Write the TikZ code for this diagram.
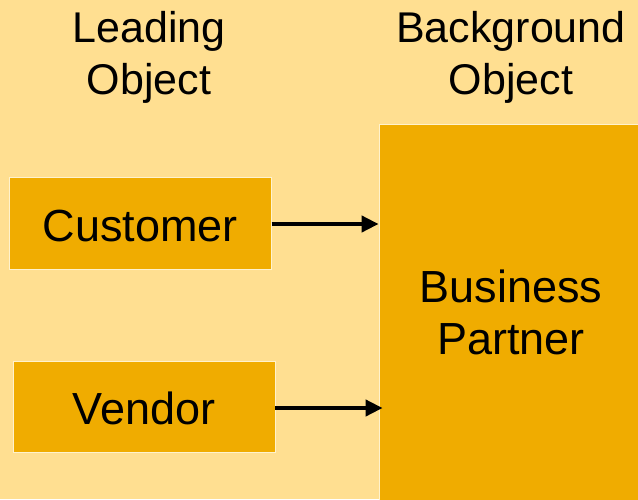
\documentclass[tikz,border=0pt]{standalone}
\usepackage{fontspec}
\setmainfont{Liberation Sans}
\usetikzlibrary{arrows.meta}
\definecolor{paper}{RGB}{255,223,145}
\definecolor{boxfill}{RGB}{240,172,0}
\definecolor{boxedge}{RGB}{255,242,205}
\tikzset{
  objbox/.style={draw=boxedge, line width=0.8pt, fill=boxfill, inner sep=0pt,
    font=\fontsize{45}{54}\selectfont, text height=36pt, text depth=0pt},
  heading/.style={anchor=base, inner sep=0pt, font=\fontsize{43}{52}\selectfont},
  link/.style={line width=4pt, -{Triangle[length=17pt,width=16pt]}}
}
\begin{document}
\begin{tikzpicture}[x=1pt,y=-1pt]
  % page and its background
  \fill[paper] (0,0) rectangle (638,499);
  \useasboundingbox (0,0) rectangle (638,499);

  % column headings
  \node[heading] (leadhead) at (149,42.7) {\begin{tabular}[t]{@{}c@{}}Leading\\Object\end{tabular}};
  \node[heading] (backhead) at (511,42.7) {\begin{tabular}[t]{@{}c@{}}Background\\Object\end{tabular}};

  % leading objects
  \node[objbox, minimum width=262pt, minimum height=92pt] (customer) at (140.3,223) {Customer};
  \node[objbox, minimum width=262pt, minimum height=91pt] (vendor) at (144,406.5) {Vendor};

  % background object, running off the right and bottom edges
  \node[draw=boxedge, line width=0.8pt, fill=boxfill, minimum width=270pt, minimum height=390pt, inner sep=0pt] (bp) at (514,319) {};
  \node[heading, font=\fontsize{45}{52}\selectfont] (bptext) at (511,302.7) {\begin{tabular}[t]{@{}c@{}}Business\\Partner\end{tabular}};

  % relations
  \draw[link] ([yshift=-1pt]customer.east) -- ([yshift=-1pt]customer.east -| bp.west);
  \draw[link, shorten >=-4pt] ([yshift=-1.5pt]vendor.east) -- ([yshift=-1.5pt]vendor.east -| bp.west);
\end{tikzpicture}
\end{document}
